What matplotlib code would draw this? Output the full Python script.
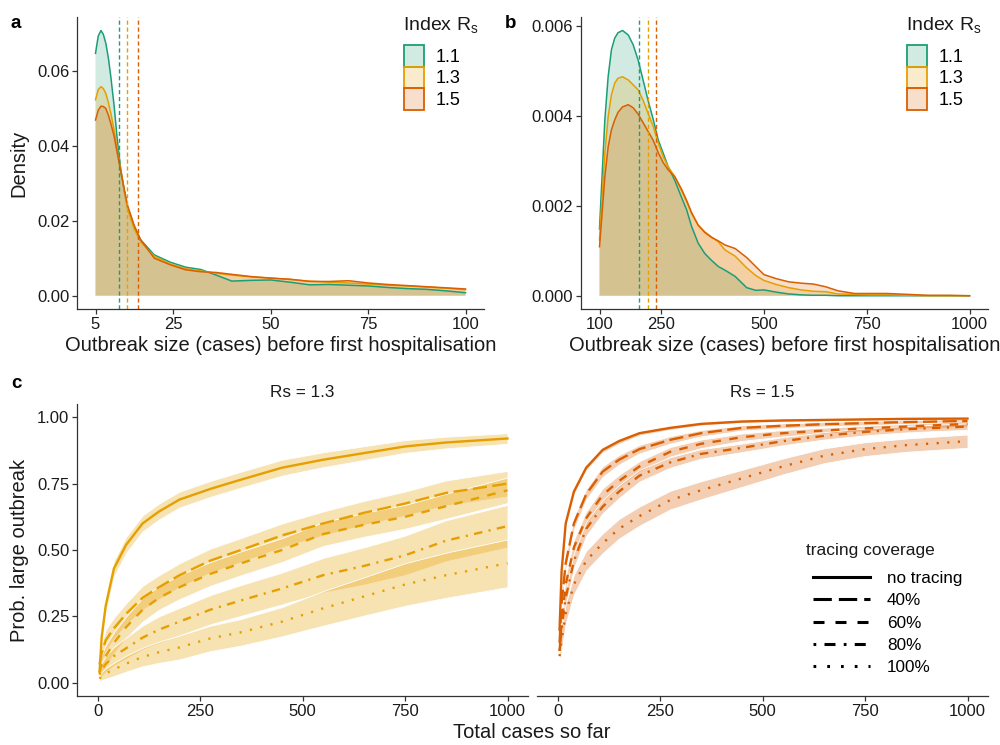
import numpy as np
import matplotlib
matplotlib.use("Agg")
import matplotlib.pyplot as plt
from matplotlib.patches import Patch
from matplotlib.lines import Line2D
from matplotlib.colors import to_rgba

plt.rcParams['font.family'] = ['Liberation Sans', 'DejaVu Sans']
plt.rcParams['mathtext.fontset'] = 'custom'
plt.rcParams['mathtext.rm'] = 'Liberation Sans'
plt.rcParams['mathtext.it'] = 'Liberation Sans'

# ---------------- data ----------------
rs_labels = ["1.1", "1.3", "1.5"]
rs_colors = ["#1B9E77", "#E69F00", "#D95F02"]

# panel a: density of outbreak size (5-100)
a_x = [5, 5.7, 6.4, 7.0, 7.65, 8.3, 8.93, 9.8, 10.6, 11.5, 12.35, 13.2, 14.9, 16.6, 20.1, 24.3, 28.2, 32, 36, 40,
       45, 50, 55, 60, 65, 70, 75, 80, 85, 90, 95, 100]
a_11 = [0.0647, 0.0693, 0.0708, 0.0698, 0.0674, 0.0635, 0.0585, 0.0505, 0.0416, 0.0336, 0.0282, 0.0238, 0.0184,
        0.0149, 0.0109, 0.0089, 0.0076, 0.0070, 0.0055, 0.0039, 0.0041, 0.0042, 0.0036, 0.0029, 0.0030, 0.0028,
        0.0026, 0.0022, 0.0019, 0.0017, 0.0013, 0.0008]
a_13 = [0.0523, 0.0550, 0.0558, 0.0553, 0.0540, 0.0516, 0.0487, 0.0442, 0.0389, 0.0336, 0.0282, 0.0233, 0.0179,
        0.0144, 0.0105, 0.0084, 0.0072, 0.0066, 0.0060, 0.0055, 0.0050, 0.0047, 0.0043, 0.0039, 0.0036, 0.0034,
        0.0031, 0.0028, 0.0026, 0.0023, 0.0020, 0.0016]
a_15 = [0.0469, 0.0495, 0.0506, 0.0505, 0.0500, 0.0482, 0.0460, 0.0425, 0.0380, 0.0331, 0.0287, 0.0242, 0.0189,
        0.0149, 0.0100, 0.0082, 0.0069, 0.0064, 0.0062, 0.0057, 0.0051, 0.0047, 0.0044, 0.0038, 0.0038, 0.0040,
        0.0034, 0.0030, 0.0027, 0.0024, 0.0021, 0.0018]
a_medians = [11, 13, 16]

# panel b: density of outbreak size (100-1000)
b_x = [100, 105, 113, 121, 129, 137, 145, 156, 170, 182, 194, 206, 218, 231, 243, 255, 267, 283, 299, 312, 324,
       340, 356, 372, 389, 405, 430, 458, 480, 500, 530, 560, 590, 620, 650, 680, 720, 760, 800, 850, 900, 950, 1000]
b_11 = [0.00148, 0.00243, 0.00391, 0.00487, 0.00547, 0.00573, 0.00585, 0.0059, 0.0058, 0.00558, 0.00524, 0.0048,
        0.00435, 0.00391, 0.00346, 0.00317, 0.00287, 0.00257, 0.0022, 0.00191, 0.00154, 0.00117, 0.00094, 0.00079,
        0.00065, 0.00057, 0.00043, 0.00018, 0.00012, 0.00013, 0.00008, 0.00004, 0.00002, 0.00001, 0.00001, 0.0,
        0.0, 0.0, 0.0, 0.0, 0.0, 0.0, 0.0]
b_13 = [0.00124, 0.00198, 0.00317, 0.00398, 0.00447, 0.00473, 0.00484, 0.00487, 0.0048, 0.00469, 0.00458, 0.00435,
        0.00406, 0.00376, 0.00339, 0.00309, 0.00287, 0.00265, 0.00235, 0.00209, 0.00183, 0.00157, 0.00142, 0.00131,
        0.0012, 0.00102, 0.00088, 0.00062, 0.00045, 0.00034, 0.00025, 0.00018, 0.00013, 0.0001, 0.00009, 0.00004,
        0.00003, 0.00002, 0.00002, 0.00001, 0.0, 0.0, 0.0]
b_15 = [0.00109, 0.00168, 0.00265, 0.00331, 0.00369, 0.00391, 0.00408, 0.0042, 0.00425, 0.00418, 0.00404, 0.00385,
        0.00366, 0.00345, 0.00318, 0.00296, 0.0028, 0.00265, 0.00238, 0.00212, 0.00185, 0.00157, 0.00141, 0.0013,
        0.00122, 0.00113, 0.00105, 0.00085, 0.00065, 0.00047, 0.00038, 0.00031, 0.00028, 0.00026, 0.0002, 0.00011,
        0.00005, 0.00005, 0.00005, 0.00003, 0.00001, 0.00001, 0.0]
b_medians = [196, 219, 237]

# panel c: probability of large outbreak vs total cases
c_x = [5, 10, 20, 40, 70, 110, 150, 200, 275, 350, 450, 550, 650, 750, 850, 1000]
coverage_labels = ["no tracing", "40%", "60%", "80%", "100%"]

c13_mean = {
    "no tracing": [0.04, 0.17, 0.29, 0.43, 0.52, 0.60, 0.645, 0.69, 0.73, 0.765, 0.81, 0.84, 0.865, 0.89, 0.905, 0.92],
    "40%": [0.07, 0.11, 0.16, 0.205, 0.26, 0.32, 0.36, 0.405, 0.46, 0.50, 0.555, 0.60, 0.64, 0.675, 0.715, 0.75],
    "60%": [0.04, 0.07, 0.10, 0.15, 0.21, 0.275, 0.32, 0.36, 0.41, 0.45, 0.50, 0.56, 0.595, 0.625, 0.665, 0.725],
    "80%": [0.03, 0.05, 0.07, 0.10, 0.13, 0.17, 0.20, 0.23, 0.275, 0.31, 0.355, 0.405, 0.44, 0.48, 0.535, 0.59],
    "100%": [0.015, 0.025, 0.035, 0.05, 0.072, 0.097, 0.115, 0.133, 0.167, 0.19, 0.23, 0.28, 0.325, 0.37, 0.405, 0.45],
}
c13_half = {
    "no tracing": [0.02, 0.03, 0.03, 0.03, 0.03, 0.03, 0.03, 0.03, 0.03, 0.03, 0.03, 0.028, 0.026, 0.024, 0.022, 0.02],
    "40%": [0.03, 0.035, 0.04, 0.04, 0.04, 0.045, 0.045, 0.045, 0.045, 0.045, 0.045, 0.045, 0.045, 0.045, 0.047, 0.048],
    "60%": [0.03, 0.035, 0.04, 0.04, 0.04, 0.045, 0.045, 0.045, 0.045, 0.045, 0.045, 0.045, 0.045, 0.045, 0.047, 0.048],
    "80%": [0.02, 0.025, 0.03, 0.035, 0.04, 0.045, 0.05, 0.052, 0.055, 0.058, 0.06, 0.065, 0.07, 0.074, 0.077, 0.08],
    "100%": [0.01, 0.015, 0.02, 0.025, 0.03, 0.035, 0.04, 0.045, 0.048, 0.05, 0.055, 0.065, 0.072, 0.08, 0.085, 0.09],
}
c15_mean = {
    "no tracing": [0.20, 0.42, 0.60, 0.72, 0.81, 0.877, 0.91, 0.94, 0.96, 0.975, 0.984, 0.988, 0.99, 0.992, 0.994, 0.995],
    "40%": [0.15, 0.30, 0.45, 0.60, 0.71, 0.795, 0.84, 0.88, 0.915, 0.94, 0.96, 0.968, 0.974, 0.978, 0.982, 0.986],
    "60%": [0.12, 0.22, 0.37, 0.51, 0.62, 0.707, 0.76, 0.815, 0.87, 0.90, 0.925, 0.94, 0.95, 0.958, 0.965, 0.975],
    "80%": [0.12, 0.20, 0.32, 0.46, 0.58, 0.663, 0.72, 0.78, 0.83, 0.862, 0.885, 0.91, 0.93, 0.945, 0.955, 0.965],
    "100%": [0.10, 0.16, 0.26, 0.37, 0.46, 0.525, 0.58, 0.628, 0.688, 0.725, 0.77, 0.815, 0.855, 0.88, 0.895, 0.91],
}
c15_half = {
    "no tracing": [0.02, 0.02, 0.015, 0.012, 0.01, 0.01, 0.01, 0.008, 0.007, 0.006, 0.005, 0.005, 0.005, 0.004, 0.004, 0.004],
    "40%": [0.03, 0.03, 0.025, 0.022, 0.02, 0.02, 0.018, 0.016, 0.014, 0.012, 0.01, 0.009, 0.008, 0.008, 0.007, 0.007],
    "60%": [0.03, 0.03, 0.03, 0.028, 0.025, 0.025, 0.023, 0.02, 0.018, 0.016, 0.014, 0.012, 0.011, 0.01, 0.01, 0.01],
    "80%": [0.03, 0.03, 0.03, 0.028, 0.026, 0.025, 0.024, 0.022, 0.02, 0.018, 0.016, 0.015, 0.014, 0.013, 0.012, 0.012],
    "100%": [0.03, 0.035, 0.037, 0.037, 0.037, 0.037, 0.037, 0.036, 0.035, 0.034, 0.032, 0.03, 0.028, 0.026, 0.025, 0.025],
}
line_styles = {
    "no tracing": "-",
    "40%": (0, (6.0, 2.3)),
    "60%": (0, (3.6, 3.6)),
    "80%": (0, (0.9, 2.7, 3.6, 2.7)),
    "100%": (0, (0.9, 3.6)),
}

# ---------------- figure ----------------
W, H = 1000, 745
fig = plt.figure(figsize=(W / 100, H / 100), dpi=100)


def px_axes(left, top, right, bottom):
    return fig.add_axes([left / W, 1 - bottom / H, (right - left) / W, (bottom - top) / H])


def fx(px):
    return px / W


def fy(py):
    return 1 - py / H


TICK = 12
LAB = 14.5
TXT = "#1a1a1a"


def style(ax, left=True):
    for s in ["top", "right"]:
        ax.spines[s].set_visible(False)
    for s in ["bottom", "left"]:
        ax.spines[s].set_linewidth(0.9)
        ax.spines[s].set_color("#333333")
    ax.tick_params(direction="out", length=3.5, width=0.9, color="#333333", labelsize=TICK, labelcolor=TXT, pad=2)
    if not left:
        ax.spines["left"].set_visible(False)
        ax.tick_params(axis="y", left=False, labelleft=False)


def density_panel(ax, xs, series, medians):
    for ys, col in zip(series, rs_colors):
        ax.fill_between(xs, 0, ys, facecolor=to_rgba(col, 0.2), edgecolor="none", lw=0)
    for ys, col in zip(series, rs_colors):
        ax.plot(xs, ys, color=col, lw=1.1, solid_joinstyle="round")
    for m, col in zip(medians, rs_colors):
        ax.axvline(m, color=col, lw=1.0, ls=(0, (3, 2)))


def rs_legend(x_px):
    fig.text(fx(x_px - 1), fy(30), "Index R$_\\mathregular{s}$", fontsize=14, color=TXT, ha="left",
             va="baseline")
    handles = [Patch(facecolor=to_rgba(c, 0.2), edgecolor=c, lw=1.3) for c in rs_colors]
    fig.legend(handles, rs_labels, loc="upper left", bbox_to_anchor=(fx(x_px), fy(45)),
               frameon=False, fontsize=13, handlelength=1.1, handleheight=1.47, labelspacing=0.0,
               handletextpad=0.65, borderpad=0.0, borderaxespad=0.0)


# panel a
ax_a = px_axes(77, 17, 484, 309)
density_panel(ax_a, a_x, [a_11, a_13, a_15], a_medians)
ax_a.set_xlim(0.25, 104.75)
ax_a.set_ylim(-0.00355, 0.0744)
ax_a.set_xticks([5, 25, 50, 75, 100])
ax_a.set_yticks([0, 0.02, 0.04, 0.06])
ax_a.set_yticklabels(["0.00", "0.02", "0.04", "0.06"])
style(ax_a)
ax_a.set_xlabel("Outbreak size (cases) before first hospitalisation", fontsize=LAB, labelpad=3, color=TXT)
ax_a.set_ylabel("Density", fontsize=LAB, labelpad=6, color=TXT)
rs_legend(404)

# panel b
ax_b = px_axes(581, 17, 988, 309)
density_panel(ax_b, b_x, [b_11, b_13, b_15], b_medians)
ax_b.set_xlim(55, 1045)
ax_b.set_ylim(-0.000295, 0.00620)
ax_b.set_xticks([100, 250, 500, 750, 1000])
ax_b.set_yticks([0, 0.002, 0.004, 0.006])
ax_b.set_yticklabels(["0.000", "0.002", "0.004", "0.006"])
style(ax_b)
ax_b.set_xlabel("Outbreak size (cases) before first hospitalisation", fontsize=LAB, labelpad=3, color=TXT)
rs_legend(907)

# panel c
ax_c1 = px_axes(77, 404, 528, 696)
ax_c2 = px_axes(537, 404, 988, 696)
for ax, means, halves, col, title in [(ax_c1, c13_mean, c13_half, rs_colors[1], "Rs = 1.3"),
                                      (ax_c2, c15_mean, c15_half, rs_colors[2], "Rs = 1.5")]:
    for lab in coverage_labels:
        m = np.array(means[lab])
        h = np.array(halves[lab])
        ax.fill_between(c_x, m - h, m + h, facecolor=to_rgba(col, 0.3), edgecolor="white", lw=0.6)
    for lab in coverage_labels:
        ax.plot(c_x, means[lab], color=col, lw=1.7, ls=line_styles[lab])
    ax.set_xlim(-50, 1050)
    ax.set_ylim(-0.05, 1.05)
    ax.set_xticks([0, 250, 500, 750, 1000])
    ax.set_yticks([0, 0.25, 0.5, 0.75, 1.0])
    ax.set_yticklabels(["0.00", "0.25", "0.50", "0.75", "1.00"])
    ax.set_title(title, fontsize=12.3, pad=5, color=TXT)
style(ax_c1)
style(ax_c2, left=False)
ax_c1.set_ylabel("Prob. large outbreak", fontsize=LAB, labelpad=6, color=TXT)
fig.text(fx(532), fy(733), "Total cases so far", ha="center", va="center", fontsize=LAB, color=TXT)

fig.text(fx(806), fy(555), "tracing coverage", fontsize=12.5, color=TXT, ha="left", va="baseline")
cov_handles = [Line2D([0], [0], color="black", lw=2.2, ls=line_styles[l]) for l in coverage_labels]
fig.legend(cov_handles, coverage_labels, loc="upper left", bbox_to_anchor=(fx(813), fy(571)),
           frameon=False, fontsize=12.3, handlelength=3.33, handletextpad=1.0, labelspacing=0.425,
           borderpad=0.0, borderaxespad=0.0)

# panel letters
fig.text(fx(16), fy(23), "a", fontsize=13.5, fontweight="bold", ha="center", va="center")
fig.text(fx(511), fy(23), "b", fontsize=13.5, fontweight="bold", ha="center", va="center")
fig.text(fx(16), fy(383), "c", fontsize=13.5, fontweight="bold", ha="center", va="center")

fig.savefig("out.png", dpi=100)
